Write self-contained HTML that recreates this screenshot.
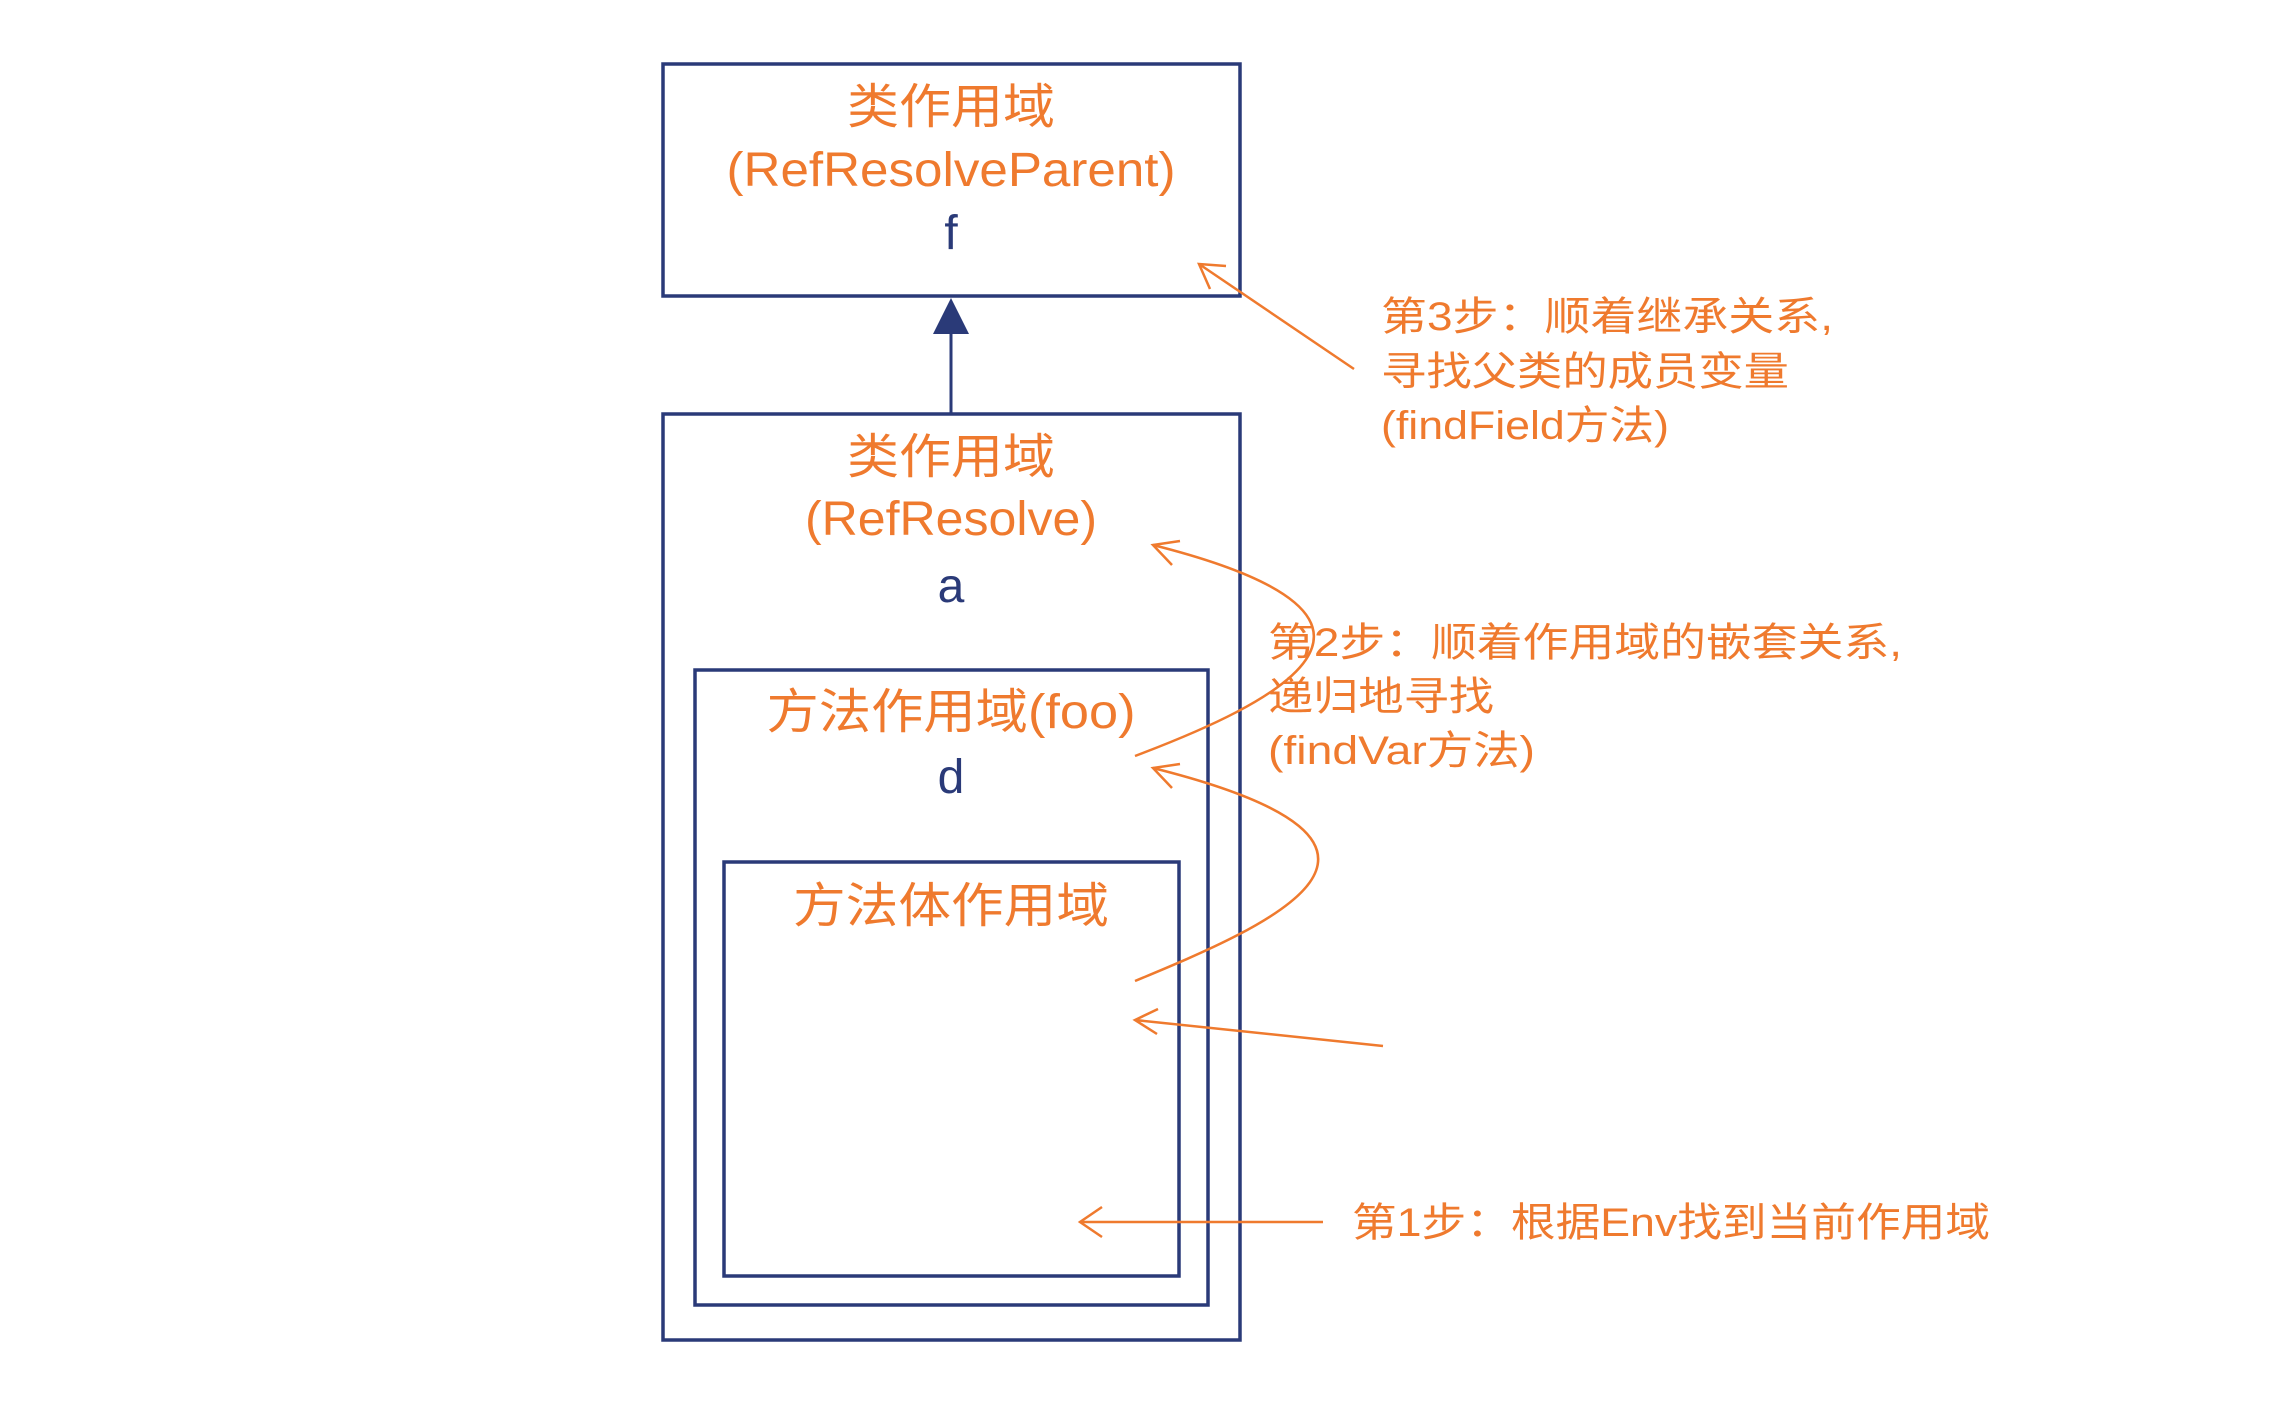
<!DOCTYPE html>
<html><head><meta charset="utf-8"><style>
html,body{margin:0;padding:0;background:#fff;}
svg{display:block;}
text{font-family:"Liberation Sans","Noto Sans CJK SC",sans-serif;}
.o{fill:#ef7a2e;}
.n{fill:#2a3a78;}
</style></head><body>
<svg width="2284" height="1401" viewBox="0 0 2284 1401" xmlns="http://www.w3.org/2000/svg">
<g fill="none" stroke="#2a3a78" stroke-width="3.5">
<rect x="663" y="64" width="577" height="232"/>
<rect x="663" y="414" width="577" height="926"/>
<rect x="695" y="670" width="513" height="635"/>
<rect x="724" y="862" width="455" height="414"/>
<line x1="951" y1="414" x2="951" y2="320" stroke-width="3"/>
</g>
<polygon points="951,298 933,334 969,334" fill="#2a3a78"/>
<g text-anchor="middle" font-size="48">
<text class="o" x="951" y="123" textLength="208" lengthAdjust="spacingAndGlyphs">类作用域</text>
<text class="o" x="951" y="186" textLength="449" lengthAdjust="spacingAndGlyphs">(RefResolveParent)</text>
<text class="n" x="951" y="249">f</text>
<text class="o" x="951" y="473" textLength="208" lengthAdjust="spacingAndGlyphs">类作用域</text>
<text class="o" x="951" y="535" textLength="292" lengthAdjust="spacingAndGlyphs">(RefResolve)</text>
<text class="n" x="951" y="602">a</text>
<text class="o" x="951" y="728" textLength="369" lengthAdjust="spacingAndGlyphs">方法作用域(foo)</text>
<text class="n" x="951" y="793">d</text>
<text class="o" x="951" y="922" textLength="316" lengthAdjust="spacingAndGlyphs">方法体作用域</text>
</g>
<g font-size="40" class="o" lengthAdjust="spacingAndGlyphs">
<text x="1381" y="330" textLength="452" lengthAdjust="spacingAndGlyphs">第3步：顺着继承关系,</text>
<text x="1381" y="385" textLength="408" lengthAdjust="spacingAndGlyphs">寻找父类的成员变量</text>
<text x="1381" y="439" textLength="288" lengthAdjust="spacingAndGlyphs">(findField方法)</text>
<text x="1268" y="656" textLength="634" lengthAdjust="spacingAndGlyphs">第2步：顺着作用域的嵌套关系,</text>
<text x="1268" y="710" textLength="226" lengthAdjust="spacingAndGlyphs">递归地寻找</text>
<text x="1268" y="764" textLength="267" lengthAdjust="spacingAndGlyphs">(findVar方法)</text>
<text x="1352" y="1236" textLength="638" lengthAdjust="spacingAndGlyphs">第1步：根据Env找到当前作用域</text>
</g>
<g fill="none" stroke="#ef7a2e" stroke-width="2.5">
<line x1="1354" y1="369" x2="1199" y2="264"/>
<polyline points="1210,289 1199,264 1226,266"/>
<path d="M1135,756 C1270,705 1450,620 1153,545"/>
<polyline points="1172,565 1153,545 1180,541"/>
<path d="M1135,981 C1270,925 1460,845 1153,768"/>
<polyline points="1172,788 1153,768 1180,764"/>
<line x1="1383" y1="1046" x2="1135" y2="1020"/>
<polyline points="1158,1009 1135,1020 1157,1034"/>
<line x1="1323" y1="1222" x2="1080" y2="1222"/>
<polyline points="1102,1207 1080,1222 1102,1237"/>
</g>
</svg>
</body></html>
